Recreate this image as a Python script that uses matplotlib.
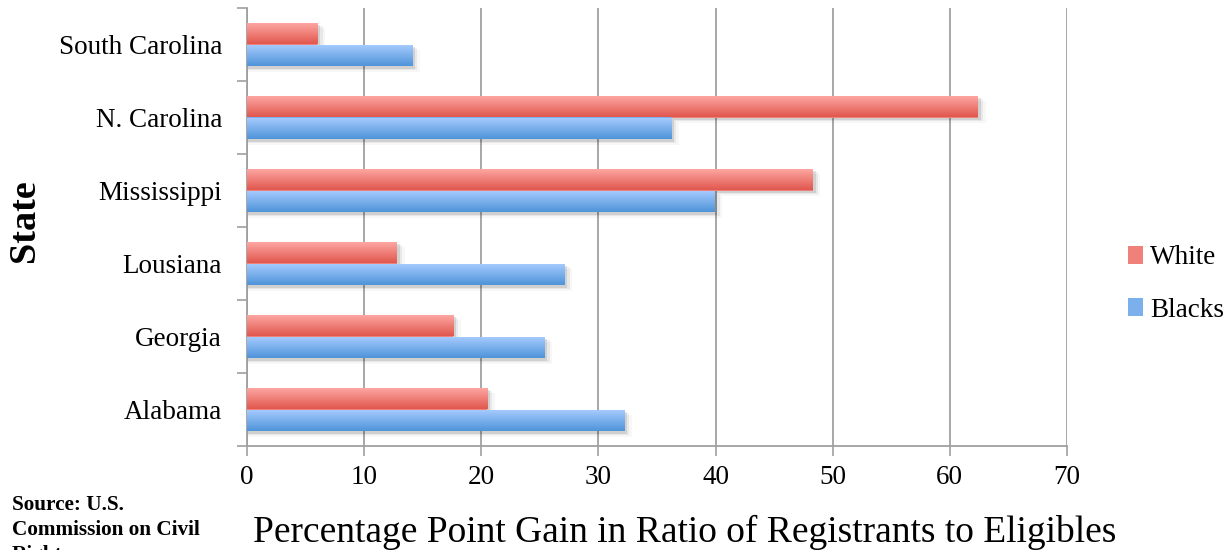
import matplotlib.pyplot as plt
import numpy as np
from matplotlib.colors import LinearSegmentedColormap
from matplotlib.patches import Rectangle

states = ['Alabama', 'Georgia', 'Lousiana', 'Mississippi', 'N. Carolina', 'South Carolina']
white = [20.5, 17.6, 12.8, 48.3, 62.4, 6.0]
blacks = [32.2, 25.4, 27.1, 39.9, 36.2, 14.1]

plt.rcParams['font.family'] = ['Liberation Serif', 'DejaVu Serif']

fig = plt.figure(figsize=(12.3, 5.5), dpi=100)
ax = fig.add_axes([247/1230, 1 - 446/550, 820/1230, 438/550])

red_cm = LinearSegmentedColormap.from_list('r', ['#e0574e', '#ffaaa6'])
blue_cm = LinearSegmentedColormap.from_list('b', ['#4f94d9', '#a8ccff'])
grad = np.linspace(0, 1, 64).reshape(-1, 1)

y = np.arange(len(states))
h = 0.3


def gradient_bars(vals, offs, cmap, label):
    bars = ax.barh(y + offs, vals, height=h, color=cmap(0.5), label=label, zorder=3)
    for b in bars:
        x0, y0 = b.get_x(), b.get_y()
        w, hh = b.get_width(), b.get_height()
        # soft shadow
        for k, a in enumerate([0.10, 0.06, 0.03]):
            d = 0.25 + 0.2 * k
            sh = Rectangle((x0, y0 - 0.03 - 0.02 * k), w + d, hh, color='black',
                           alpha=a, lw=0, zorder=2)
            ax.add_patch(sh)
        im = ax.imshow(grad, cmap=cmap, aspect='auto', extent=[x0, x0 + w, y0, y0 + hh],
                       origin='lower', zorder=4)
        im.set_clip_path(b)
    return bars


gradient_bars(white, h / 2, red_cm, 'White')
gradient_bars(blacks, -h / 2, blue_cm, 'Blacks')

ax.set_xlim(0, 70)
ax.set_ylim(-0.5, len(states) - 0.5)
ax.set_xticks(range(0, 71, 10))
ax.set_yticks(y)
ax.set_yticklabels(states)
ax.set_yticks(np.arange(-0.5, len(states), 1), minor=True)
ax.tick_params(axis='y', which='major', length=0, pad=18, labelsize=19.5)
ax.tick_params(axis='y', which='minor', length=7, color='#a0a0a0', width=1.2)
ax.tick_params(axis='x', length=7, color='#a0a0a0', width=1.2, labelsize=19.5, pad=7)
ax.grid(axis='x', color='#a0a0a0', lw=1.3, zorder=0)
ax.set_axisbelow(True)
for s in ['top', 'right']:
    ax.spines[s].set_visible(False)
for s in ['left', 'bottom']:
    ax.spines[s].set_color('#a0a0a0')
    ax.spines[s].set_linewidth(1.3)

ax.set_xlabel('Percentage Point Gain in Ratio of Registrants to Eligibles', fontsize=27)
ax.xaxis.set_label_coords(0.534, -0.158)
ax.set_ylabel('State', fontsize=27.5, fontweight='bold')
ax.yaxis.set_label_coords(-0.25, 0.514)

handles, labels = ax.get_legend_handles_labels()
fig.legend(handles, labels, loc='center left', bbox_to_anchor=(1104/1230, 1 - 284/550),
           frameon=False, fontsize=19.5, handlelength=0.55, handleheight=0.65,
           handletextpad=0.25, labelspacing=1.0)

fig.text(12/1230, 1 - 495/550, 'Source: U.S.\nCommission on Civil\nRights', fontsize=15.3,
         fontweight='bold', va='top', ha='left', linespacing=1.34)

fig.savefig('out.png', dpi=100)
